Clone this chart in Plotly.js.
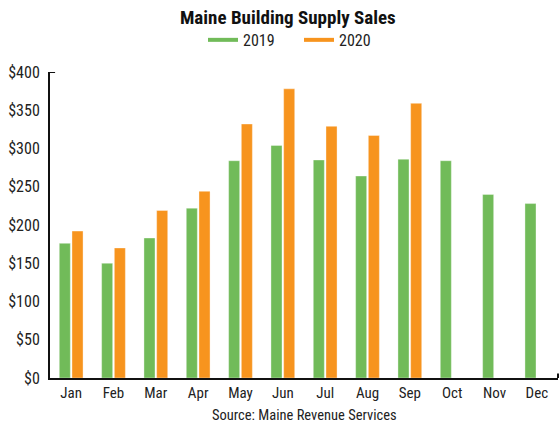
<!DOCTYPE html>
<html><head><meta charset="utf-8">
<script src="https://cdn.plot.ly/plotly-3.0.1.min.js"></script>
<style>html,body{margin:0;padding:0;background:#fff;}#chart{width:560px;height:425px;}</style>
</head><body><div id="chart"></div>
<script>
var months = ["Jan","Feb","Mar","Apr","May","Jun","Jul","Aug","Sep","Oct","Nov","Dec"];
var sales2019 = [176, 150, 183, 222, 284, 304, 285, 264, 286, 284, 240, 228];
var sales2020 = [192, 170, 219, 244, 332, 378, 329, 317, 359];
var yTicks = [0, 50, 100, 150, 200, 250, 300, 350, 400];
var yTickLabels = yTicks.map(function(v){ return "$" + v; });

var green = "#71BB59", orange = "#F7941E";
var fontFam = "'Liberation Sans Narrow', 'Roboto Condensed', 'DejaVu Sans Condensed', Arial, sans-serif";

var traces = [
  {type:"bar", x: months, y: sales2019, name:"2019", marker:{color:green, line:{color:"rgba(255,255,255,0.6)", width:0.6}}, showlegend:false, hoverinfo:"y"},
  {type:"bar", x: months.slice(0, sales2020.length), y: sales2020, name:"2020", marker:{color:orange, line:{color:"rgba(255,255,255,0.6)", width:0.6}}, showlegend:false, hoverinfo:"y"},
  {type:"scatter", mode:"lines", x:[null], y:[null], name:"2019", line:{color:green, width:4}},
  {type:"scatter", mode:"lines", x:[null], y:[null], name:"2020", line:{color:orange, width:4}}
];

var layout = {
  width:560, height:425,
  margin:{l:50, r:2, t:72, b:47},
  paper_bgcolor:"#fff", plot_bgcolor:"#fff",
  font:{family:fontFam, color:"#222", size:14},
  title:{text:"<b>Maine Building Supply Sales</b>", font:{family:fontFam, size:19, color:"#111"}, x:0.514, xanchor:"center", y:0.96, yanchor:"middle", xref:"container", yref:"container"},
  barmode:"group", bargap:0.4, bargroupgap:0.13,
  legend:{orientation:"h", x:203/560, xanchor:"left", y:0.906, yanchor:"middle", xref:"container", yref:"container", font:{size:16, family:fontFam, color:"#222"}, itemwidth:30, entrywidth:51, entrywidthmode:"pixels", tracegroupgap:0},
  xaxis:{type:"category", categoryorder:"array", categoryarray: months, range:[-0.5, 11.5], showline:true, linecolor:"#111", linewidth:2, ticks:"", showgrid:false, zeroline:false, tickfont:{size:15, family:fontFam, color:"#222"}, fixedrange:true},
  yaxis:{range:[0, 400], tickmode:"array", tickvals:yTicks, ticktext:yTickLabels, showline:true, linecolor:"#111", linewidth:2, ticks:"", showgrid:false, zeroline:false, tickfont:{size:16, family:fontFam, color:"#222"}, ticklabelstandoff:5, fixedrange:true},
  shapes:[
    {type:"line", xref:"paper", yref:"y", x0:0, x1:0.01, y0:400, y1:400, line:{color:"#111", width:2}},
    {type:"line", xref:"paper", yref:"y", x0:1, x1:1, y0:0, y1:6, line:{color:"#111", width:2}}
  ],
  annotations:[
    {text:"Source: Maine Revenue Services", xref:"paper", yref:"paper", x:0.5, y:-0.121, xanchor:"center", yanchor:"middle", showarrow:false, font:{size:14.5, family:fontFam, color:"#222"}}
  ]
};
Plotly.newPlot("chart", traces, layout, {displayModeBar:false, staticPlot:true});
</script></body></html>
